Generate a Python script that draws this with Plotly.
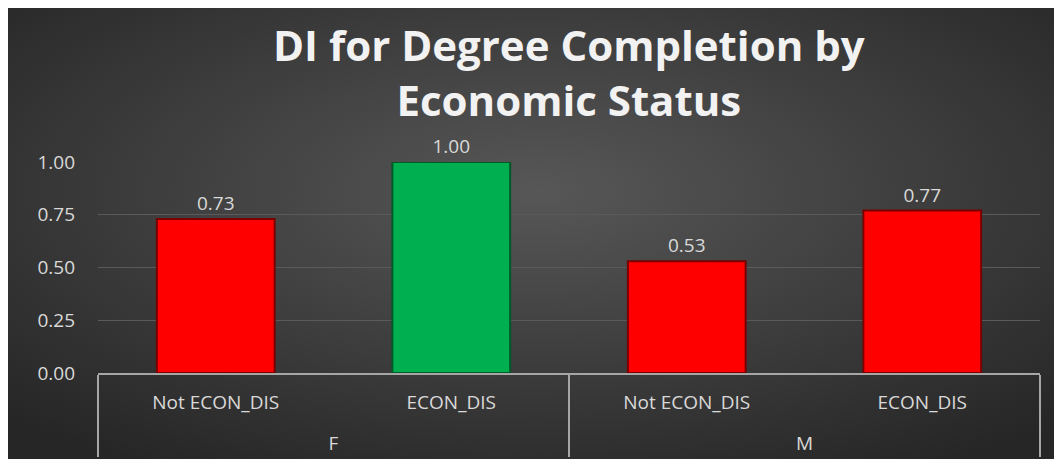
import base64
import plotly.graph_objects as go

title = "DI for Degree Completion by<br>Economic Status"
genders = ["F", "F", "M", "M"]
statuses = ["Not ECON_DIS", "ECON_DIS", "Not ECON_DIS", "ECON_DIS"]
di_values = [0.73, 1.00, 0.53, 0.77]
bar_colors = ["#ff0000", "#00b050", "#ff0000", "#ff0000"]
edge_colors = ["#7a0000", "#005a26", "#7a0000", "#7a0000"]
y_ticks = [0, 0.25, 0.5, 0.75, 1.0]

W, H = 1062, 459
L, R, T, B = 90, 30, 154, 94

# radial gradient backdrop, as in the Excel chart area
svg = (
    '<svg xmlns="http://www.w3.org/2000/svg" width="1062" height="459">'
    '<defs><radialGradient id="g" cx="50%" cy="40%" r="70%">'
    '<stop offset="0" stop-color="#575757"/>'
    '<stop offset="1" stop-color="#262626"/>'
    '</radialGradient></defs>'
    '<rect width="1062" height="459" fill="url(#g)"/></svg>'
)
bg_src = "data:image/svg+xml;base64," + base64.b64encode(svg.encode()).decode()

pw, ph = W - L - R, H - T - B

# group labels sit a line lower, as in the Excel axis
group_labels = ["<br>" + g for g in genders]

fig = go.Figure(
    go.Bar(
        x=[group_labels, statuses],
        y=di_values,
        text=[f"{v:.2f}" for v in di_values],
        textposition="outside",
        textfont=dict(color="#d9d9d9", size=19),
        cliponaxis=False,
        marker=dict(color=bar_colors, line=dict(color=edge_colors, width=2)),
        width=0.5,
        hoverinfo="y",
    )
)

fig.add_annotation(
    text=title,
    xref="paper",
    yref="paper",
    x=0.5,
    y=(H - B - 64) / ph,
    xanchor="center",
    yanchor="middle",
    showarrow=False,
    font=dict(family="Open Sans", size=42, color="#f2f2f2", weight="bold"),
)

fig.update_layout(
    width=W,
    height=H,
    margin=dict(l=L, r=R, t=T, b=B),
    paper_bgcolor="white",
    plot_bgcolor="rgba(0,0,0,0)",
    font=dict(family="Open Sans", color="#d9d9d9", size=19),
    showlegend=False,
    images=[
        dict(
            source=bg_src,
            xref="paper",
            yref="paper",
            x=-L / pw,
            y=(H - B) / ph,
            sizex=W / pw,
            sizey=H / ph,
            sizing="stretch",
            xanchor="left",
            yanchor="top",
            layer="below",
        )
    ],
)

fig.update_yaxes(
    range=[0, 1],
    tickvals=y_ticks,
    tickformat=".2f",
    gridcolor="#5a5a5a",
    gridwidth=1,
    zeroline=False,
    ticks="",
    ticklabelstandoff=22,
    automargin=False,
    tickfont=dict(color="#d9d9d9", size=19),
)
fig.update_xaxes(
    showline=True,
    linecolor="#a6a6a6",
    linewidth=1.5,
    showdividers=True,
    dividercolor="#a6a6a6",
    dividerwidth=1.5,
    ticks="",
    ticklabelstandoff=11,
    automargin=False,
    tickfont=dict(color="#d9d9d9", size=19),
)

fig.write_html("out.html")
